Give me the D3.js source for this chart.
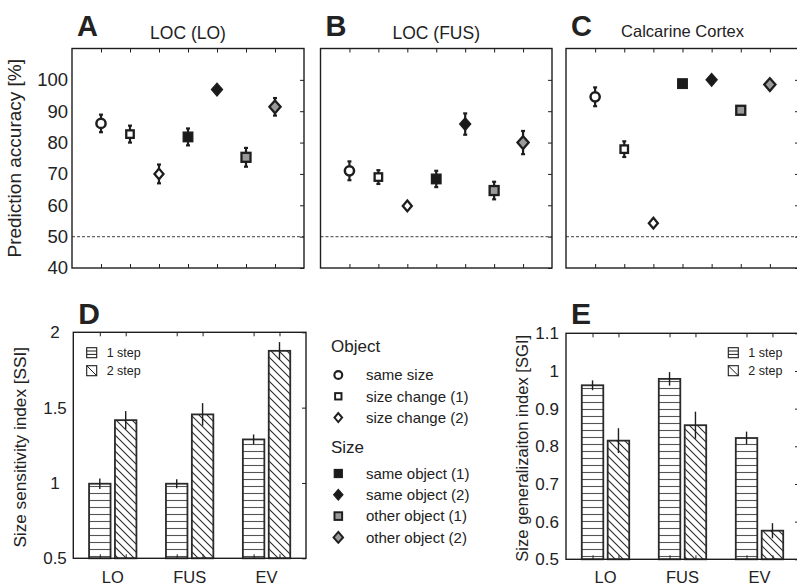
<!DOCTYPE html>
<html>
<head>
<meta charset="utf-8">
<script src="https://cdn.jsdelivr.net/npm/d3@7"></script>
<style>
  body { margin: 0; background: #fff; }
  text { font-family: Arial, "Liberation Sans", sans-serif; fill: #222; }
</style>
</head>
<body>
<svg id="fig" width="797" height="587"></svg>
<script>
// ---- data ----
// conditions of the top panels A-C
const conditions = ['same size', 'size change (1)', 'size change (2)',
                    'same object (1)', 'same object (2)', 'other object (1)', 'other object (2)'];
const shapes = ['circle', 'square', 'diamond', 'square', 'diamond', 'square', 'diamond'];
const fills  = ['white', 'white', 'white', 'black', 'black', 'gray', 'gray'];

const accLO  = [86.1, 82.7, 70.0, 81.8, 96.9, 75.3, 91.4];
const errLO  = [2.8, 2.7, 3.0, 2.7, 0.8, 3.0, 2.8];
const accFUS = [71.0, 69.0, 59.8, 68.4, 85.9, 64.7, 80.0];
const errFUS = [3.0, 2.2, 1.0, 2.6, 3.4, 2.8, 3.7];
const accCAL = [94.6, 77.9, 54.3, 98.8, 100.0, 90.3, 98.5];
const errCAL = [3.0, 2.5, 0.8, 0.5, 0.8, 1.0, 1.0];
const accTicks = [40, 50, 60, 70, 80, 90, 100];
const chance = 50;

// bottom panels D, E
const regions = ['LO', 'FUS', 'EV'];
const steps = ['1 step', '2 step'];
const ssi1    = [0.995, 0.995, 1.289];
const ssi1Err = [0.035, 0.030, 0.033];
const ssi2    = [1.417, 1.455, 1.877];
const ssi2Err = [0.060, 0.075, 0.058];
const ssiTicks = [0.5, 1, 1.5, 2];
const sgi1    = [0.962, 0.979, 0.822];
const sgi1Err = [0.013, 0.018, 0.017];
const sgi2    = [0.815, 0.856, 0.576];
const sgi2Err = [0.033, 0.036, 0.020];
const sgiTicks = [0.5, 0.6, 0.7, 0.8, 0.9, 1, 1.1];

const ink = '#1e1e1e';
const grayFill = '#9a9a9a';
const svg = d3.select('#fig');

// ---- hatch patterns for bars ----
const defs = svg.append('defs');
defs.append('pattern')
    .attr('id', 'hz').attr('patternUnits', 'userSpaceOnUse')
    .attr('width', 10).attr('height', 7)
    .append('line')
    .attr('x1', 0).attr('x2', 10).attr('y1', 3.5).attr('y2', 3.5)
    .attr('stroke', '#555').attr('stroke-width', 1.1);
const s = 8;
defs.append('pattern')
    .attr('id', 'dg').attr('patternUnits', 'userSpaceOnUse')
    .attr('width', s).attr('height', s)
    .append('path')
    .attr('d', `M-1,-1L${s + 1},${s + 1}M-1,${s - 1}L1,${s + 1}M${s - 1},-1L${s + 1},1`)
    .attr('stroke', '#2a2a2a').attr('stroke-width', 1.1);

// ---- marker drawing ----
function fillOf(f) { return f === 'white' ? '#fff' : f === 'gray' ? grayFill : '#1a1a1a'; }

function marker(g, shape, fill, cx, cy, k) {
  // k scales the marker (1 = plot, <1 = legend)
  let el;
  if (shape === 'circle') {
    el = g.append('circle').attr('cx', cx).attr('cy', cy).attr('r', 4.6 * k)
      .attr('stroke-width', 2.5 * k);
  } else if (shape === 'square') {
    const a = (fill === 'black' ? 9.5 : fill === 'gray' ? 9 : 7.5) * k;
    el = g.append('rect').attr('x', cx - a / 2).attr('y', cy - a / 2)
      .attr('width', a).attr('height', a)
      .attr('stroke-width', (fill === 'black' ? 1.4 : 2.3) * k);
  } else {
    const w = (fill === 'white' ? 4.5 : 5.6) * k, h = (fill === 'white' ? 5.3 : 6.4) * k;
    el = g.append('path')
      .attr('d', `M${cx},${cy - h}L${cx + w},${cy}L${cx},${cy + h}L${cx - w},${cy}Z`)
      .attr('stroke-width', (fill === 'black' ? 1.2 : 2.3) * k)
      .attr('stroke-linejoin', 'miter');
  }
  el.attr('fill', fillOf(fill)).attr('stroke', ink);
}

// ---- frame with inward ticks on all four sides ----
function frame(g, x, y, xTicks, yTicks, left, right, top, bottom) {
  g.append('g').attr('transform', `translate(0,${top})`)
    .call(d3.axisTop(x).tickValues(xTicks).tickSize(-4).tickFormat(''))
    .call(a => a.select('.domain').remove());
  g.append('g').attr('transform', `translate(0,${bottom})`)
    .call(d3.axisBottom(x).tickValues(xTicks).tickSize(-4).tickFormat(''))
    .call(a => a.select('.domain').remove());
  g.append('g').attr('transform', `translate(${right},0)`)
    .call(d3.axisRight(y).tickValues(yTicks).tickSize(-4).tickFormat(''))
    .call(a => a.select('.domain').remove());
  g.selectAll('.tick line').attr('stroke', ink).attr('stroke-width', 1);
  g.append('rect').attr('x', left).attr('y', top)
    .attr('width', right - left).attr('height', bottom - top)
    .attr('fill', 'none').attr('stroke', ink).attr('stroke-width', 1.4);
}

// ---- top panels A-C ----
const topY = d3.scaleLinear().domain([40, 110]).range([268, 48.5]);
const topPanels = [
  { letter: 'A', title: 'LOC (LO)', left: 72, right: 304, acc: accLO, err: errLO, labels: true, tsize: 17.5, ty: 39 },
  { letter: 'B', title: 'LOC (FUS)', left: 320.5, right: 552, acc: accFUS, err: errFUS, labels: false, tsize: 17.5, ty: 39 },
  { letter: 'C', title: 'Calcarine Cortex', left: 566, right: 799, acc: accCAL, err: errCAL, labels: false, tsize: 16.5, ty: 36.5 }
];

topPanels.forEach(p => {
  const g = svg.append('g');
  const x = d3.scaleLinear().domain([0, 8]).range([p.left, p.right]);
  const idx = d3.range(conditions.length);

  // chance level
  g.append('line')
    .attr('x1', p.left).attr('x2', p.right)
    .attr('y1', topY(chance)).attr('y2', topY(chance))
    .attr('stroke', '#666').attr('stroke-width', 1.3).attr('stroke-dasharray', '3,2');

  frame(g, x, topY, idx.map(i => i + 1), accTicks, p.left, p.right, topY(110), topY(40));

  if (p.labels) {
    const ax = g.append('g').attr('transform', `translate(${p.left},0)`)
      .call(d3.axisLeft(topY).tickValues(accTicks).tickSize(0).tickPadding(4));
    ax.select('.domain').remove();
    ax.selectAll('text').attr('font-size', 18.5).attr('font-family', null).attr('fill', '#222');
    g.append('text')
      .attr('transform', `translate(21,${(topY(40) + topY(110)) / 2}) rotate(-90)`)
      .attr('text-anchor', 'middle').attr('font-size', 19)
      .text('Prediction accuracy [%]');
  }

  // error bars
  idx.forEach(i => {
    const cx = x(i + 1), y0 = topY(p.acc[i] - p.err[i]), y1 = topY(p.acc[i] + p.err[i]);
    g.append('line').attr('x1', cx).attr('x2', cx).attr('y1', y0).attr('y2', y1)
      .attr('stroke', ink).attr('stroke-width', 2.2);
    [y0, y1].forEach(yy => g.append('line')
      .attr('x1', cx - 2).attr('x2', cx + 2).attr('y1', yy).attr('y2', yy)
      .attr('stroke', ink).attr('stroke-width', 2.2));
  });
  idx.forEach(i => marker(g, shapes[i], fills[i], x(i + 1), topY(p.acc[i]), 1));

  g.append('text').attr('x', p.left + 5).attr('y', 36)
    .attr('font-size', 29).attr('font-weight', 'bold').attr('fill', '#111').text(p.letter);
  g.append('text').attr('x', (p.left + p.right) / 2).attr('y', p.ty)
    .attr('text-anchor', 'middle').attr('font-size', p.tsize).text(p.title);
});

// ---- bar panels D, E ----
function barPanel(o) {
  const g = svg.append('g');
  const x0 = d3.scaleBand().domain(regions).range([o.left, o.right])
    .paddingInner(0.384).paddingOuter(0.205);
  const x1 = d3.scaleBand().domain(steps).range([0, x0.bandwidth()]).paddingInner(0.17);
  const y = d3.scaleLinear().domain(o.domain).range([o.bottom, o.top]);
  const series = [o.v1, o.v2], errs = [o.e1, o.e2], pats = ['url(#hz)', 'url(#dg)'];
  const centers = [];
  regions.forEach(r => steps.forEach(st => centers.push(x0(r) + x1(st) + x1.bandwidth() / 2)));

  series.forEach((vals, si) => {
    g.selectAll(null).data(regions).join('rect')
      .attr('x', r => x0(r) + x1(steps[si]))
      .attr('y', (r, i) => y(vals[i]))
      .attr('width', x1.bandwidth())
      .attr('height', (r, i) => y(o.domain[0]) - y(vals[i]))
      .attr('fill', pats[si]).attr('stroke', '#2a2a2a').attr('stroke-width', 1.8);
    g.selectAll(null).data(regions).join('line')
      .attr('x1', r => x0(r) + x1(steps[si]) + x1.bandwidth() / 2)
      .attr('x2', r => x0(r) + x1(steps[si]) + x1.bandwidth() / 2)
      .attr('y1', (r, i) => y(vals[i] - errs[si][i]))
      .attr('y2', (r, i) => y(vals[i] + errs[si][i]))
      .attr('stroke', ink).attr('stroke-width', 1.4);
  });

  // frame: ticks at bar centres on top/bottom
  const xid = d3.scaleLinear().domain([o.left, o.right]).range([o.left, o.right]);
  frame(g, xid, y, centers, o.ticks, o.left, o.right, o.top, o.bottom);

  // y tick labels
  const ax = g.append('g').attr('transform', `translate(${o.left},0)`)
    .call(d3.axisLeft(y).tickValues(o.ticks).tickSize(0).tickPadding(o.pad).tickFormat(d3.format('')));
  ax.select('.domain').remove();
  ax.selectAll('text').attr('font-size', 17).attr('font-family', null).attr('fill', '#222')
    .attr('text-anchor', o.anchor);
  if (o.anchor === 'middle') ax.selectAll('text').attr('x', o.labelX - o.left);

  // category labels
  g.selectAll(null).data(regions).join('text')
    .attr('x', r => x0(r) + x0.bandwidth() / 2).attr('y', 582.5)
    .attr('text-anchor', 'middle').attr('font-size', 16.5).text(r => r);

  g.append('text')
    .attr('transform', `translate(${o.ylabX},${(o.top + o.bottom) / 2 + 2}) rotate(-90)`)
    .attr('text-anchor', 'middle').attr('font-size', o.ylabSize).text(o.ylab);

  g.append('text').attr('x', o.left + 5).attr('y', 324)
    .attr('font-size', 30).attr('font-weight', 'bold').attr('fill', '#111').text(o.letter);

  // step legend
  steps.forEach((st, i) => {
    const ly = o.legY + i * 18;
    g.append('rect').attr('x', o.legX).attr('y', ly).attr('width', 10).attr('height', 10)
      .attr('fill', '#fff').attr('stroke', ink).attr('stroke-width', 1.1);
    if (i === 0) {
      [3.3, 6.7].forEach(d => g.append('line')
        .attr('x1', o.legX).attr('x2', o.legX + 10).attr('y1', ly + d).attr('y2', ly + d)
        .attr('stroke', ink).attr('stroke-width', 1));
    } else {
      g.append('line').attr('x1', o.legX).attr('x2', o.legX + 10)
        .attr('y1', ly).attr('y2', ly + 10).attr('stroke', ink).attr('stroke-width', 1);
    }
    g.append('text').attr('x', o.legX + 20).attr('y', ly + 9.5)
      .attr('font-size', 12.5).text(st);
  });
}

barPanel({
  letter: 'D', left: 73.3, right: 306, top: 332.3, bottom: 558.3, domain: [0.5, 2],
  v1: ssi1, e1: ssi1Err, v2: ssi2, e2: ssi2Err, ticks: ssiTicks,
  pad: 8, anchor: 'middle', labelX: 55,
  ylab: 'Size sensitivity index [SSI]', ylabX: 26, ylabSize: 17.2,
  legX: 86.7, legY: 347.7
});
barPanel({
  letter: 'E', left: 566, right: 799, top: 333.3, bottom: 559.3, domain: [0.5, 1.1],
  v1: sgi1, e1: sgi1Err, v2: sgi2, e2: sgi2Err, ticks: sgiTicks,
  pad: 7, anchor: 'end',
  ylab: 'Size generalizaiton index [SGI]', ylabX: 528, ylabSize: 16.6,
  legX: 728.3, legY: 347.7
});

// ---- marker legend in the middle ----
const leg = svg.append('g');
const groups = [
  { title: 'Object', ty: 352, rows: [0, 1, 2], y0: 375 },
  { title: 'Size', ty: 453, rows: [3, 4, 5, 6], y0: 473.5 }
];
groups.forEach(gr => {
  leg.append('text').attr('x', 331).attr('y', gr.ty).attr('font-size', 17).text(gr.title);
  gr.rows.forEach((ci, j) => {
    const cy = gr.y0 + j * 21.3;
    marker(leg, shapes[ci], fills[ci], 338.3, cy, 0.85);
    leg.append('text').attr('x', 366).attr('y', cy + 5.3).attr('font-size', 15).text(conditions[ci]);
  });
});
</script>
</body>
</html>
